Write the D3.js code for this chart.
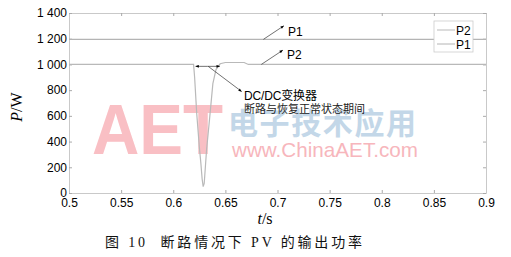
<!DOCTYPE html>
<html>
<head>
<meta charset="utf-8">
<script src="https://cdn.jsdelivr.net/npm/d3@7"></script>
<style>
  html, body { margin: 0; padding: 0; background: #fff; }
  svg { display: block; }
</style>
</head>
<body>
<svg id="chart" width="511" height="257"></svg>
<script>
// ── Data ──────────────────────────────────────────────────────────────────
const p2Time  = [0.5, 0.6195, 0.6205, 0.6225, 0.625, 0.6265, 0.6277, 0.6287, 0.6297, 0.6307, 0.632, 0.635, 0.638, 0.641, 0.645, 0.65, 0.668, 0.672, 0.9];
const p2Power = [1000, 1000, 900, 620, 360, 230, 110, 50, 75, 190, 340, 590, 850, 960, 1005, 1015, 1015, 1000, 1000];
const p1Time  = [0.5, 0.9];
const p1Power = [1195, 1195];

const xTicks = [0.5, 0.55, 0.6, 0.65, 0.7, 0.75, 0.8, 0.85, 0.9];
const yTicks = [0, 200, 400, 600, 800, 1000, 1200, 1400];
const legendNames = ['P2', 'P1'];

const LINE   = { P1: '#b4b4b4', P2: '#b9b9b9' };
const AXIS   = '#c9c9c9';
const SANS   = '"Liberation Sans", Arial, sans-serif';
const SERIF  = '"Liberation Serif", "Times New Roman", serif';
const CJK    = '"Noto Sans CJK SC", sans-serif';

// ── Setup ─────────────────────────────────────────────────────────────────
const svg = d3.select('#chart');
const L = 69, R = 486, T = 13, B = 193;

const x = d3.scaleLinear().domain([0.5, 0.9]).range([L, R]);
const y = d3.scaleLinear().domain([0, 1400]).range([B, T]);

const fmtX = d => String(+d.toFixed(2));
const fmtY = d => d >= 1000 ? d3.format(',')(d).replace(',', ' ') : String(d);

// watermark (behind everything)
const wm = svg.append('g').attr('id', 'watermark');
wm.append('text')
  .attr('x', 92).attr('y', 154)
  .attr('textLength', 131).attr('lengthAdjust', 'spacingAndGlyphs')
  .attr('font-family', SANS).attr('font-size', 71).attr('font-weight', 700)
  .attr('fill', '#f9bfc4')
  .text('AET');
wm.append('text')
  .attr('x', 228).attr('y', 134)
  .attr('textLength', 188).attr('lengthAdjust', 'spacing')
  .attr('font-family', CJK).attr('font-size', 30).attr('font-weight', 700)
  .attr('fill', '#c3d7e8')
  .text('电子技术应用');
wm.append('text')
  .attr('x', 232).attr('y', 157)
  .attr('textLength', 186).attr('lengthAdjust', 'spacingAndGlyphs')
  .attr('font-family', SANS).attr('font-size', 21)
  .attr('fill', '#f7b6bc')
  .text('www.ChinaAET.com');

// ── Axes ──────────────────────────────────────────────────────────────────
function styleAxis(g) {
  g.select('.domain').attr('stroke', AXIS);
  g.selectAll('.tick line').attr('stroke', '#aaa');
  g.selectAll('.tick text')
    .attr('fill', '#000').attr('font-family', SANS).attr('font-size', 12);
}

svg.append('g')
  .attr('transform', `translate(0,${B})`)
  .call(d3.axisBottom(x).tickValues(xTicks).tickFormat(fmtX).tickSizeInner(-3).tickSizeOuter(0).tickPadding(5))
  .call(styleAxis);

svg.append('g')
  .attr('transform', `translate(0,${T})`)
  .call(d3.axisTop(x).tickValues(xTicks).tickFormat('').tickSizeInner(-3).tickSizeOuter(0))
  .call(styleAxis);

svg.append('g')
  .attr('transform', `translate(${L},0)`)
  .call(d3.axisLeft(y).tickValues(yTicks).tickFormat(fmtY).tickSizeInner(-3).tickSizeOuter(0).tickPadding(2))
  .call(styleAxis);

svg.append('g')
  .attr('transform', `translate(${R},0)`)
  .call(d3.axisRight(y).tickValues(yTicks).tickFormat('').tickSizeInner(-3).tickSizeOuter(0))
  .call(styleAxis);

// ── Lines ─────────────────────────────────────────────────────────────────
const line = d3.line().x(d => x(d[0])).y(d => y(d[1]));
const series = [
  { name: 'P1', pts: d3.zip(p1Time, p1Power) },
  { name: 'P2', pts: d3.zip(p2Time, p2Power) }
];
svg.append('g').selectAll('path')
  .data(series)
  .join('path')
    .attr('d', d => line(d.pts))
    .attr('fill', 'none')
    .attr('stroke', d => LINE[d.name])
    .attr('stroke-width', 1.2);

// ── Annotations ───────────────────────────────────────────────────────────
const defs = svg.append('defs');
defs.append('marker')
  .attr('id', 'arr').attr('viewBox', '0 0 10 10')
  .attr('refX', 9).attr('refY', 5)
  .attr('markerWidth', 6).attr('markerHeight', 5)
  .attr('orient', 'auto-start-reverse')
  .append('path').attr('d', 'M0 1L10 5L0 9Z').attr('fill', '#000');

const ann = svg.append('g')
  .attr('stroke', '#333').attr('stroke-width', 0.7).attr('fill', 'none');
const arrowSpecs = [
  [x(0.6865), y(1195), x(0.706), y(1300)],
  [x(0.6845), y(1000), x(0.705), y(1110)],
  [x(0.633), y(985), x(0.6215), y(985)],
  [x(0.633), y(985), x(0.6445), y(985)],
  [x(0.6335), y(985), x(0.6655), y(790)]
];
ann.selectAll('line')
  .data(arrowSpecs)
  .join('line')
    .attr('x1', d => d[0]).attr('y1', d => d[1])
    .attr('x2', d => d[2]).attr('y2', d => d[3])
    .attr('marker-end', 'url(#arr)');

const annText = svg.append('g').attr('fill', '#000').attr('font-size', 12);
annText.append('text').attr('x', 288).attr('y', 36).attr('font-family', SANS).text('P1');
annText.append('text').attr('x', 287).attr('y', 59).attr('font-family', SANS).text('P2');
annText.append('text').attr('x', 244).attr('y', 100).attr('font-family', `${SANS.split(',')[0]}, ${CJK}`)
  .attr('textLength', 73).text('DC/DC变换器');
annText.append('text').attr('x', 244).attr('y', 113).attr('font-family', CJK)
  .attr('font-size', 11).attr('textLength', 121).attr('fill', '#222').text('断路与恢复正常状态期间');

// ── Legend ────────────────────────────────────────────────────────────────
const lg = svg.append('g').attr('transform', 'translate(434,21)');
lg.append('rect')
  .attr('width', 39).attr('height', 31)
  .attr('fill', '#fff').attr('stroke', '#ccc').attr('stroke-width', 0.8);
const item = lg.selectAll('g.item')
  .data(legendNames)
  .join('g').attr('class', 'item')
  .attr('transform', (d, i) => `translate(0,${9 + i * 14})`);
item.append('line')
  .attr('x1', 3).attr('x2', 21)
  .attr('stroke', d => LINE[d]).attr('stroke-width', 1);
item.append('text')
  .attr('x', 22).attr('y', 4.5)
  .attr('font-family', SANS).attr('font-size', 12)
  .text(d => d);

// ── Axis titles & caption ─────────────────────────────────────────────────
const yt = svg.append('text')
  .attr('transform', 'translate(22,107) rotate(-90)')
  .attr('text-anchor', 'middle')
  .attr('font-family', SERIF).attr('font-size', 16);
yt.append('tspan').attr('font-style', 'italic').text('P');
yt.append('tspan').text('/W');

const xt = svg.append('text')
  .attr('x', 265).attr('y', 224)
  .attr('text-anchor', 'middle')
  .attr('font-family', SERIF).attr('font-size', 16);
xt.append('tspan').attr('font-style', 'italic').text('t');
xt.append('tspan').text('/s');

svg.append('text')
  .attr('x', 105).attr('y', 247)
  .attr('textLength', 257).attr('lengthAdjust', 'spacing')
  .attr('font-family', `${SERIF}, ${CJK}`).attr('font-size', 14)
  .attr('fill', '#111')
  .attr('xml:space', 'preserve')
  .text('图 10  断路情况下 PV 的输出功率');
</script>
</body>
</html>
